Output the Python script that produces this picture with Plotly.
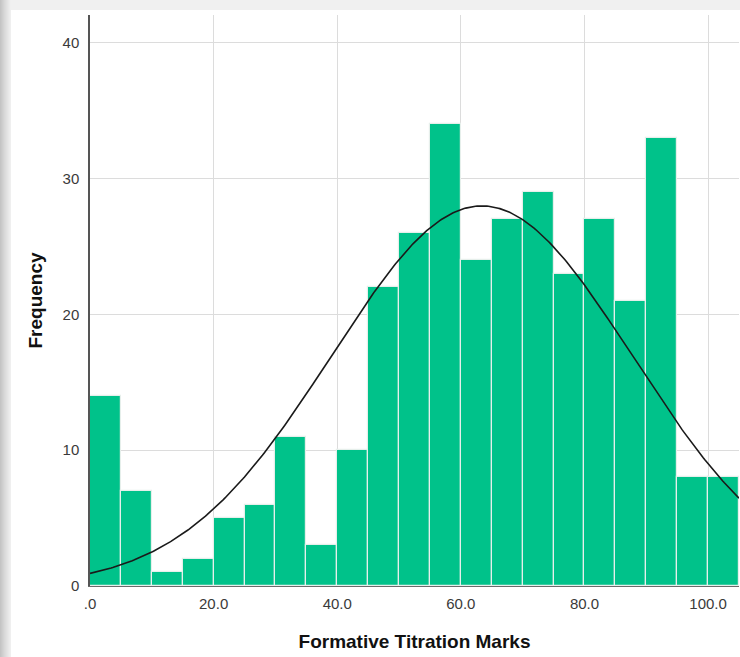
import numpy as np
import plotly.graph_objects as go

bin_starts = [0, 5, 10, 15, 20, 25, 30, 35, 40, 45, 50, 55, 60, 65, 70, 75, 80, 85, 90, 95, 100]
counts = [14, 7, 1, 2, 5, 6, 11, 3, 10, 22, 26, 34, 24, 27, 29, 23, 27, 21, 33, 8, 8]
bin_width = 5
x_ticks = [0, 20, 40, 60, 80, 100]
x_tick_labels = [".0", "20.0", "40.0", "60.0", "80.0", "100.0"]
y_ticks = [0, 10, 20, 30, 40]
mean_val = 63.4
sd_val = 24.3

n_total = sum(counts)
centers = [s + bin_width / 2 for s in bin_starts]
xs = np.linspace(0, 105, 400)
ys = n_total * bin_width / (sd_val * np.sqrt(2 * np.pi)) * np.exp(-0.5 * ((xs - mean_val) / sd_val) ** 2)

fig = go.Figure()
fig.add_trace(go.Bar(x=centers, y=counts, width=bin_width,
                     marker=dict(color="#00c28a", line=dict(color="#e6efeb", width=1.2)),
                     hoverinfo="x+y", showlegend=False))
fig.add_trace(go.Scatter(x=xs, y=ys, mode="lines", line=dict(color="#1a1a1a", width=1.6),
                         showlegend=False, hoverinfo="skip"))

W = 740.0
H = 657.0
L, R, T, B = 90, 1, 15, 71
pw = W - L - R
ph = H - T - B

def px_x(p):
    return (p - L) / pw

def px_y(p):
    return (H - B - p) / ph

shapes = []
# top light strip
shapes.append(dict(type="rect", xref="paper", yref="paper", x0=px_x(0), x1=px_x(740),
                   y0=px_y(0), y1=px_y(10), fillcolor="#f0f0f0", line=dict(width=0), layer="below"))
# left gray gradient strip
shades = ["#c4c4c4", "#c9c9c9", "#cecece", "#d3d3d3", "#d8d8d8", "#dcdcdc", "#e0e0e0", "#e4e4e4", "#e8e8e8", "#ececec", "#efefef"]
for i, c in enumerate(shades):
    shapes.append(dict(type="rect", xref="paper", yref="paper", x0=px_x(i), x1=px_x(i + 1),
                       y0=px_y(657), y1=px_y(0), fillcolor=c, line=dict(width=0), layer="below"))

fig.update_layout(
    width=740, height=657,
    margin=dict(l=L, r=R, t=T, b=B),
    paper_bgcolor="white", plot_bgcolor="white",
    bargap=0,
    shapes=shapes,
    font=dict(family="Liberation Sans, Arial, sans-serif", color="#3a3a3a", size=15),
    xaxis=dict(range=[0, 105], tickvals=x_ticks, ticktext=x_tick_labels,
               showgrid=True, gridcolor="#dcdcdc", gridwidth=1,
               showline=True, linecolor="#6a6a6a", linewidth=1.2,
               ticks="", zeroline=False, ticklabelstandoff=4,
               title=dict(text="<b>Formative Titration Marks</b>", font=dict(size=19, color="#111111"), standoff=23)),
    yaxis=dict(range=[0, 42.05], tickvals=y_ticks,
               showgrid=True, gridcolor="#dcdcdc", gridwidth=1,
               showline=True, linecolor="#555555", linewidth=1.5,
               ticks="", zeroline=False, ticklabelstandoff=6,
               title=dict(text="<b>Frequency</b>", font=dict(size=19, color="#111111"), standoff=15)),
)

fig.write_html("out.html", config={"displayModeBar": False},
               post_script="document.body.style.margin='0';document.body.style.padding='0';")
